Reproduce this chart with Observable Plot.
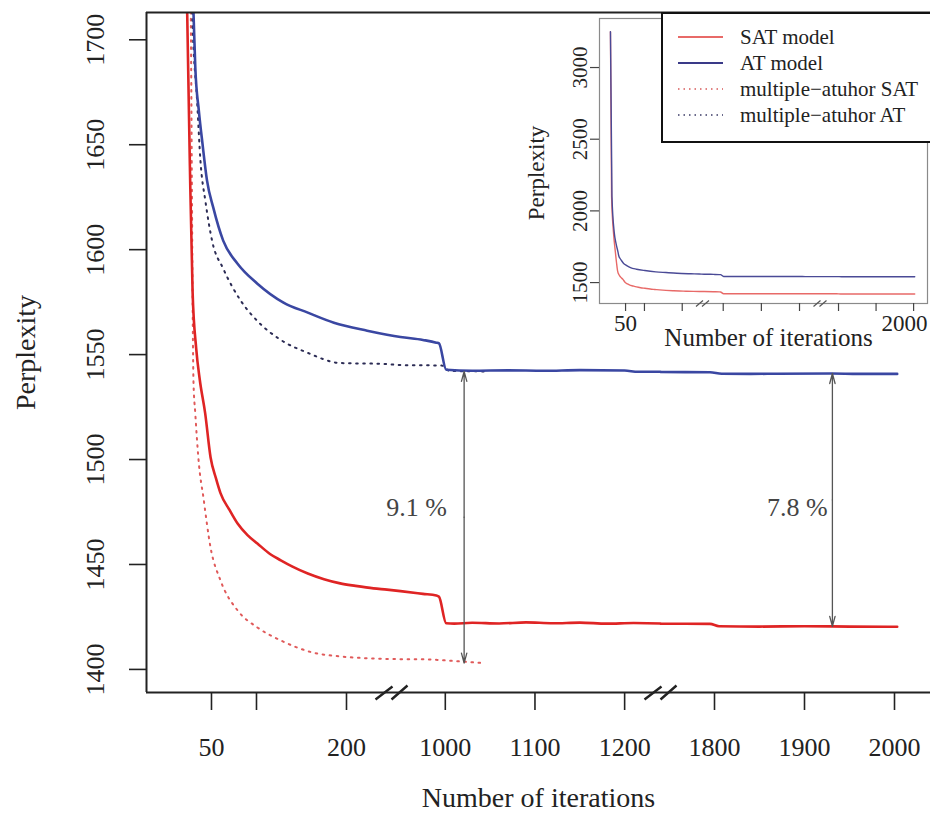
<!DOCTYPE html>
<html><head><meta charset="utf-8">
<script src="https://cdn.jsdelivr.net/npm/d3@7"></script>
<script src="https://cdn.jsdelivr.net/npm/@observablehq/plot@0.6"></script>
<style>
body{margin:0;background:#fff;}
#wrap{position:relative;width:930px;height:830px;overflow:hidden;font-family:"Liberation Serif",serif;background:#fff;}
#main{position:absolute;left:0;top:0;}
#inset{position:absolute;left:500px;top:0;}
#legend{position:absolute;left:661px;top:12px;width:269px;height:131px;}
svg text{font-family:"Liberation Serif","Times New Roman",serif !important;}
</style></head><body>
<div id="wrap"><div id="main"></div><div id="inset"></div><div id="legend"></div></div>
<script>
// ---------- data ----------
const satIter = [10,13,18,23,26,29,33,37,43,49,55,60,70,79,90,101,115,127,140,157,175,193,210,230,245,950,975,990,993,1001,1010,1030,1060,1090,1120,1150,1180,1210,1240,1740,1795,1805,1850,1900,1950,2003];
const satVal  = [3250,2100,1850,1713,1640,1580,1553,1538,1522,1501,1491,1484,1476,1469.5,1464,1460,1455,1452,1449,1445.7,1443,1441,1439.8,1438.6,1438,1437.3,1436,1435.2,1434.6,1422,1421.8,1422.2,1421.9,1422.4,1422,1422.3,1421.8,1422.1,1421.9,1421.8,1421.7,1420.6,1420.4,1420.6,1420.4,1420.3,1420.3];

const atIter = [10,14,20,25,30,32,36,40,45,52,63,79,101,130,157,186,223,245,950,975,990,993,1001,1030,1070,1110,1150,1200,1215,1240,1740,1795,1808,1840,1870,1930,1960,2003];
const atVal  = [3250,2100,1850,1770,1713,1687,1666,1650.5,1633,1620,1604.3,1593.3,1583.8,1574.8,1570,1565.2,1561.4,1559.5,1558.4,1557,1555.7,1555.3,1542.8,1542.3,1542.5,1542.3,1542.6,1542.4,1541.8,1541.8,1541.7,1541.6,1540.9,1540.8,1540.9,1541,1540.8,1540.8];

const maSatIter = [20,27,30,32,36,41,49,60,79,101,127,163,193,230,245,950,977,1010,1043];
const maSatVal  = [1950,1713,1537,1522,1498,1482,1458,1442.4,1428.1,1420,1413.8,1408,1406.2,1405.2,1405,1404.9,1404.8,1404,1403];

const maAtIter = [20,28.6,34,37.8,43.3,50.8,63,82,101,127,156,193,245,950,996,1005,1043];
const maAtVal  = [1950,1713,1671,1642,1623,1604,1591,1576,1566,1557,1551,1546,1545.5,1545,1544.8,1542.2,1542];

const yTicks = [1400,1450,1500,1550,1600,1650,1700];
const xTicks = [50,100,200,1000,1100,1200,1800,1900,2000];
const xTickLabels = ["50","","200","1000","1100","1200","1800","1900","2000"];
const breakIters = [250,1240];

const gapIter = [1021,1931];
const gapTop = [1542,1541];
const gapBottom = [1403,1420.5];
const gapLabel = ["9.1 %","7.8 %"];
const gapLabelIter = [968,1892];
const gapLabelVal = [1477,1477];

const insetYTicks = [1500,2000,2500,3000];
const insetLabelIters = [50,2000];
const insetLabels = ["50","2000"];

const legendLabels = ["SAT model","AT model","multiple\u2212atuhor SAT","multiple\u2212atuhor AT"];

// ---------- layout / style config ----------
const xDomain = [-22.2,250,940,1240,1740,2040];
const xRange  = [146,391,391,660,660,930];
const yDomain = [1389,1713];
const insetXDomain = [-19,255,947,1255,1752,2037];
const insetXRange  = [99,202.5,202.5,320,320,427];
const insetYDomain = [1354,3342];
const FONT = '"Liberation Serif", "Times New Roman", serif';

const toRows = (it, v) => it.map((d,i) => ({iter: d, val: v[i]}));
const sat = toRows(satIter, satVal);
const at = toRows(atIter, atVal);
const maSat = toRows(maSatIter, maSatVal);
const maAt = toRows(maAtIter, maAtVal);
const gaps = gapIter.map((d,i) => ({iter: d, top: gapTop[i], bottom: gapBottom[i], mid: (gapTop[i]+gapBottom[i])/2, label: gapLabel[i], li: gapLabelIter[i], lv: gapLabelVal[i]}));

const bigSlash = {draw(ctx){ ctx.moveTo(-16,7); ctx.lineTo(1,-6); ctx.moveTo(0,7); ctx.lineTo(16,-7); }};
const smallSlash = {draw(ctx){ ctx.moveTo(-7,3); ctx.lineTo(0,-3); ctx.moveTo(-1,3); ctx.lineTo(6,-3); }};

const C = {red:"#df2424", blue:"#3a47a2", mred:"#e05a5a", mblue:"#2c2c55"};
const T = {fontFamily: FONT, fill: "#222", textAnchor: "middle", lineAnchor: "middle"};

const main = Plot.plot({
  width: 930, height: 830,
  marginLeft: 146, marginRight: 0, marginTop: 12, marginBottom: 138,
  style: {background: "transparent", fontFamily: FONT, color: "#222"},
  x: {type: "linear", domain: xDomain, range: xRange},
  y: {domain: yDomain},
  marks: [
    Plot.line(maSat, {x: "iter", y: "val", stroke: C.mred, strokeWidth: 2, strokeDasharray: "1.6,5.5", curve: "monotone-x", clip: true}),
    Plot.line(maAt, {x: "iter", y: "val", stroke: C.mblue, strokeWidth: 2, strokeDasharray: "1.6,5.5", curve: "monotone-x", clip: true}),
    Plot.line(sat, {x: "iter", y: "val", stroke: C.red, strokeWidth: 2.6, curve: "monotone-x", clip: true}),
    Plot.line(at, {x: "iter", y: "val", stroke: C.blue, strokeWidth: 2.6, curve: "monotone-x", clip: true}),
    Plot.arrow(gaps, {x1: "iter", x2: "iter", y1: "mid", y2: "top", stroke: "#555", strokeWidth: 1.3, headLength: 12, headAngle: 30}),
    Plot.arrow(gaps, {x1: "iter", x2: "iter", y1: "mid", y2: "bottom", stroke: "#555", strokeWidth: 1.3, headLength: 12, headAngle: 30}),
    Plot.text(gaps, {x: "li", y: "lv", text: "label", fontSize: 26, ...T, fill: "#444"}),
    Plot.ruleX([xDomain[0]], {stroke: "#222", strokeWidth: 2}),
    Plot.ruleY([yDomain[0]], {stroke: "#222", strokeWidth: 2}),
    Plot.ruleY([yDomain[1]], {stroke: "#222", strokeWidth: 2}),
    Plot.axisY({ticks: yTicks, tickSize: 17, tickFormat: () => "", label: null, stroke: "#222", strokeWidth: 1.6}),
    Plot.axisX({ticks: xTicks, tickSize: 18, tickFormat: () => "", label: null, stroke: "#222", strokeWidth: 1.6}),
    Plot.dot(breakIters, {x: d => d, y: () => yDomain[0], symbol: bigSlash, fill: "none", stroke: "#222", strokeWidth: 2.4}),
    Plot.text(yTicks, {y: d => d, text: d => String(d), frameAnchor: "left", dx: -51, rotate: -90, fontSize: 26, ...T}),
    Plot.text(xTicks, {x: d => d, text: (d,i) => xTickLabels[i], frameAnchor: "bottom", dy: 55, fontSize: 26, ...T}),
    Plot.text(["Number of iterations"], {frameAnchor: "bottom", dy: 106, fontSize: 28, ...T}),
    Plot.text(["Perplexity"], {frameAnchor: "left", dx: -120, rotate: -90, fontSize: 28, ...T})
  ]
});
document.getElementById("main").appendChild(main);

const inset = Plot.plot({
  width: 430, height: 350,
  marginLeft: 99, marginRight: 3, marginTop: 18, marginBottom: 47,
  style: {background: "transparent", fontFamily: FONT, color: "#222"},
  x: {type: "linear", domain: insetXDomain, range: insetXRange},
  y: {domain: insetYDomain},
  marks: [
    Plot.frame({stroke: "#8a8a8a", strokeWidth: 1.2}),
    Plot.line(sat, {x: "iter", y: "val", stroke: "#e86a68", strokeWidth: 1.4, curve: "monotone-x", clip: true}),
    Plot.line(at, {x: "iter", y: "val", stroke: "#4a4a96", strokeWidth: 1.4, curve: "monotone-x", clip: true}),
    Plot.axisY({ticks: insetYTicks, tickSize: 9, tickFormat: () => "", label: null, stroke: "#444", strokeWidth: 1.2}),
    Plot.axisX({ticks: xTicks, tickSize: 8, tickFormat: () => "", label: null, stroke: "#444", strokeWidth: 1.2}),
    Plot.dot(breakIters, {x: (d,i) => [insetXDomain[1], insetXDomain[3]][i], y: () => insetYDomain[0], symbol: smallSlash, fill: "none", stroke: "#555", strokeWidth: 1.2}),
    Plot.text(insetYTicks, {y: d => d, text: d => String(d), frameAnchor: "left", dx: -19, rotate: -90, fontSize: 21, ...T}),
    Plot.text([insetLabelIters[0]], {x: d => d, text: () => insetLabels[0], frameAnchor: "bottom", dy: 20, fontSize: 23, ...T}),
    Plot.text([insetLabelIters[1]], {x: d => d, text: () => insetLabels[1], frameAnchor: "bottom", dy: 20, dx: 14, fontSize: 23, ...T, textAnchor: "end"}),
    Plot.text(["Number of iterations"], {frameAnchor: "bottom", dx: 5, dy: 34, fontSize: 25, ...T}),
    Plot.text(["Perplexity"], {frameAnchor: "left", dx: -63, dy: 12, rotate: -90, fontSize: 23, ...T})
  ]
});
document.getElementById("inset").appendChild(inset);

// legend
const lg = d3.select("#legend").append("svg").attr("width", 269).attr("height", 131).style("background", "#fff");
lg.append("rect").attr("x", 1).attr("y", 1).attr("width", 300).attr("height", 129).attr("fill", "#fff").attr("stroke", "#111").attr("stroke-width", 2);
const legendStyle = [
  {stroke: "#e86a68", dash: null, w: 2},
  {stroke: "#3a3a88", dash: null, w: 2.2},
  {stroke: "#d85a5a", dash: "1.5,4", w: 1.6},
  {stroke: "#3a3a66", dash: "1.5,4", w: 1.6}
];
legendLabels.forEach((t, i) => {
  const y = 25 + i * 26;
  const s = legendStyle[i];
  lg.append("line").attr("x1", 17).attr("x2", 62).attr("y1", y).attr("y2", y)
    .attr("stroke", s.stroke).attr("stroke-width", s.w).attr("stroke-dasharray", s.dash);
  lg.append("text").attr("x", 79).attr("y", y).attr("dy", "0.35em").attr("font-size", 21)
    .attr("font-family", FONT).attr("fill", "#222").text(t);
});
</script>
</body></html>
